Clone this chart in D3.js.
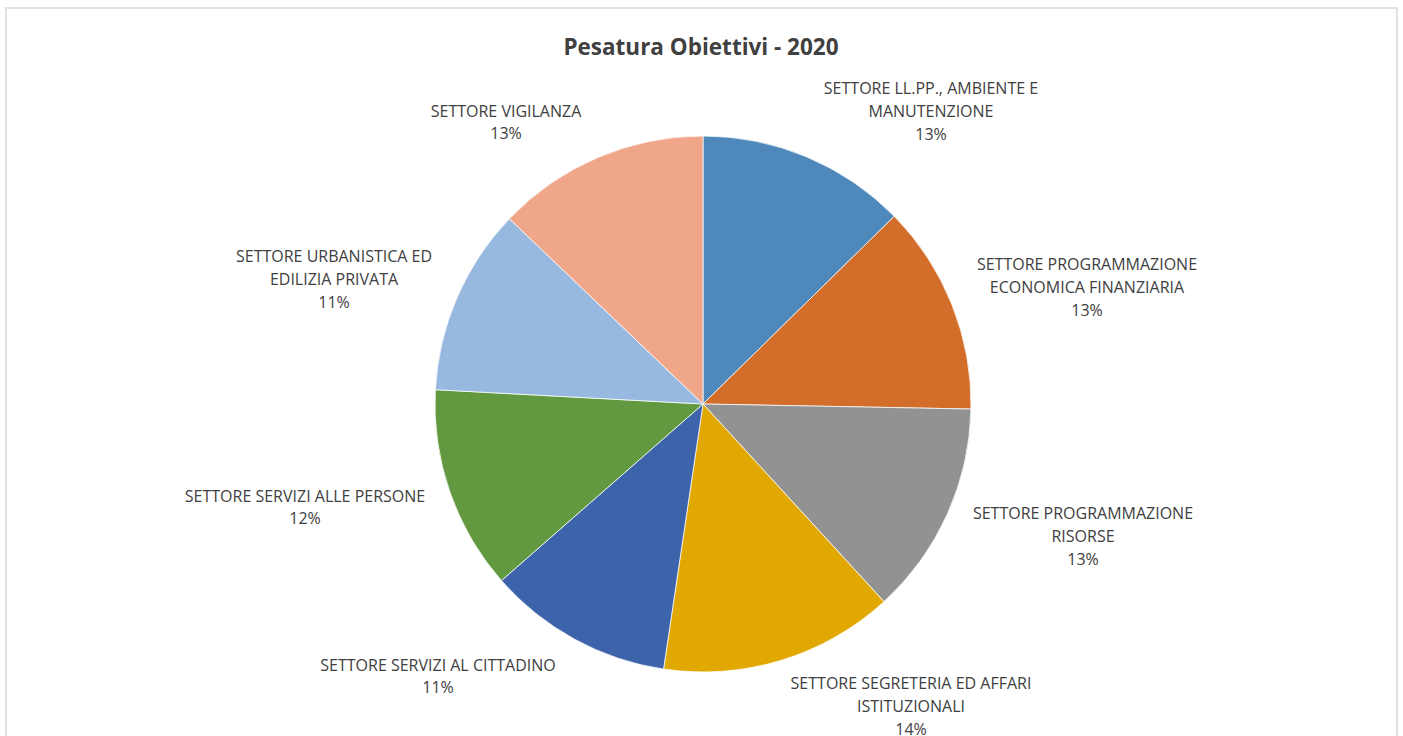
<!DOCTYPE html>
<html>
<head>
<meta charset="utf-8">
<script src="https://cdn.jsdelivr.net/npm/d3@7"></script>
<style>
  html, body { margin: 0; padding: 0; background: #fff; }
  svg { display: block; }
  text { font-family: "Open Sans", Lato, sans-serif; fill: #404040; }
</style>
</head>
<body>
<svg id="chart" width="1403" height="736"></svg>
<script>
// ---- data ----
const title = "Pesatura Obiettivi - 2020";
const categories = [
  "SETTORE LL.PP., AMBIENTE E\nMANUTENZIONE",
  "SETTORE PROGRAMMAZIONE\nECONOMICA FINANZIARIA",
  "SETTORE PROGRAMMAZIONE\nRISORSE",
  "SETTORE SEGRETERIA ED AFFARI\nISTITUZIONALI",
  "SETTORE SERVIZI AL CITTADINO",
  "SETTORE SERVIZI ALLE PERSONE",
  "SETTORE URBANISTICA ED\nEDILIZIA PRIVATA",
  "SETTORE VIGILANZA"
];
const values = [12.65, 12.65, 12.9, 14.15, 11.2, 12.3, 11.3, 12.85];
const colors = ["#4f89bb", "#d26e29", "#929292", "#e0a800", "#3d63aa", "#629840", "#98b9df", "#f0a689"];

// ---- layout (label box centres relative to pie centre, Excel "best fit") ----
const labelOffsets = [
  [228, -293], [384, -117], [380, 132], [208, 302],
  [-265, 272], [-398, 103], [-369, -125], [-197, -282]
];

const W = 1403, H = 736;
const cx = 703, cy = 404, R = 268;
const lineH = 22.8;

const svg = d3.select("#chart");

// outer border
svg.append("rect")
  .attr("x", 6).attr("y", 8)
  .attr("width", 1391).attr("height", 760)
  .attr("fill", "#fff")
  .attr("stroke", "#d9d9d9").attr("stroke-width", 1.5);

// title
svg.append("text")
  .attr("x", 701).attr("y", 46)
  .attr("text-anchor", "middle")
  .attr("dominant-baseline", "central")
  .style("font-size", "22.5px")
  .style("font-weight", "bold")
  .text(title);

const total = d3.sum(values);
const pct = d3.format(".0%");

const pie = d3.pie().sort(null).value(d => d)
  .startAngle(0).endAngle(2 * Math.PI);
const arcs = pie(values);
const arc = d3.arc().innerRadius(0).outerRadius(R);

const g = svg.append("g").attr("transform", `translate(${cx},${cy})`);

g.selectAll("path.slice")
  .data(arcs)
  .join("path")
  .attr("class", "slice")
  .attr("d", arc)
  .attr("fill", (d, i) => colors[i])
  .attr("stroke", "#fff")
  .attr("stroke-width", 0.75);

// labels
const labels = g.selectAll("text.lbl")
  .data(arcs)
  .join("text")
  .attr("class", "lbl")
  .attr("text-anchor", "middle")
  .style("font-size", "16px");

labels.each(function(d, i) {
  const lines = categories[i].split("\n").concat([pct(d.value / total)]);
  const [ox, oy] = labelOffsets[i];
  const y0 = oy - (lines.length - 1) * lineH / 2;
  const t = d3.select(this);
  lines.forEach((ln, k) => {
    t.append("tspan")
      .attr("x", ox)
      .attr("y", y0 + k * lineH)
      .attr("dominant-baseline", "central")
      .text(ln);
  });
});
</script>
</body>
</html>
